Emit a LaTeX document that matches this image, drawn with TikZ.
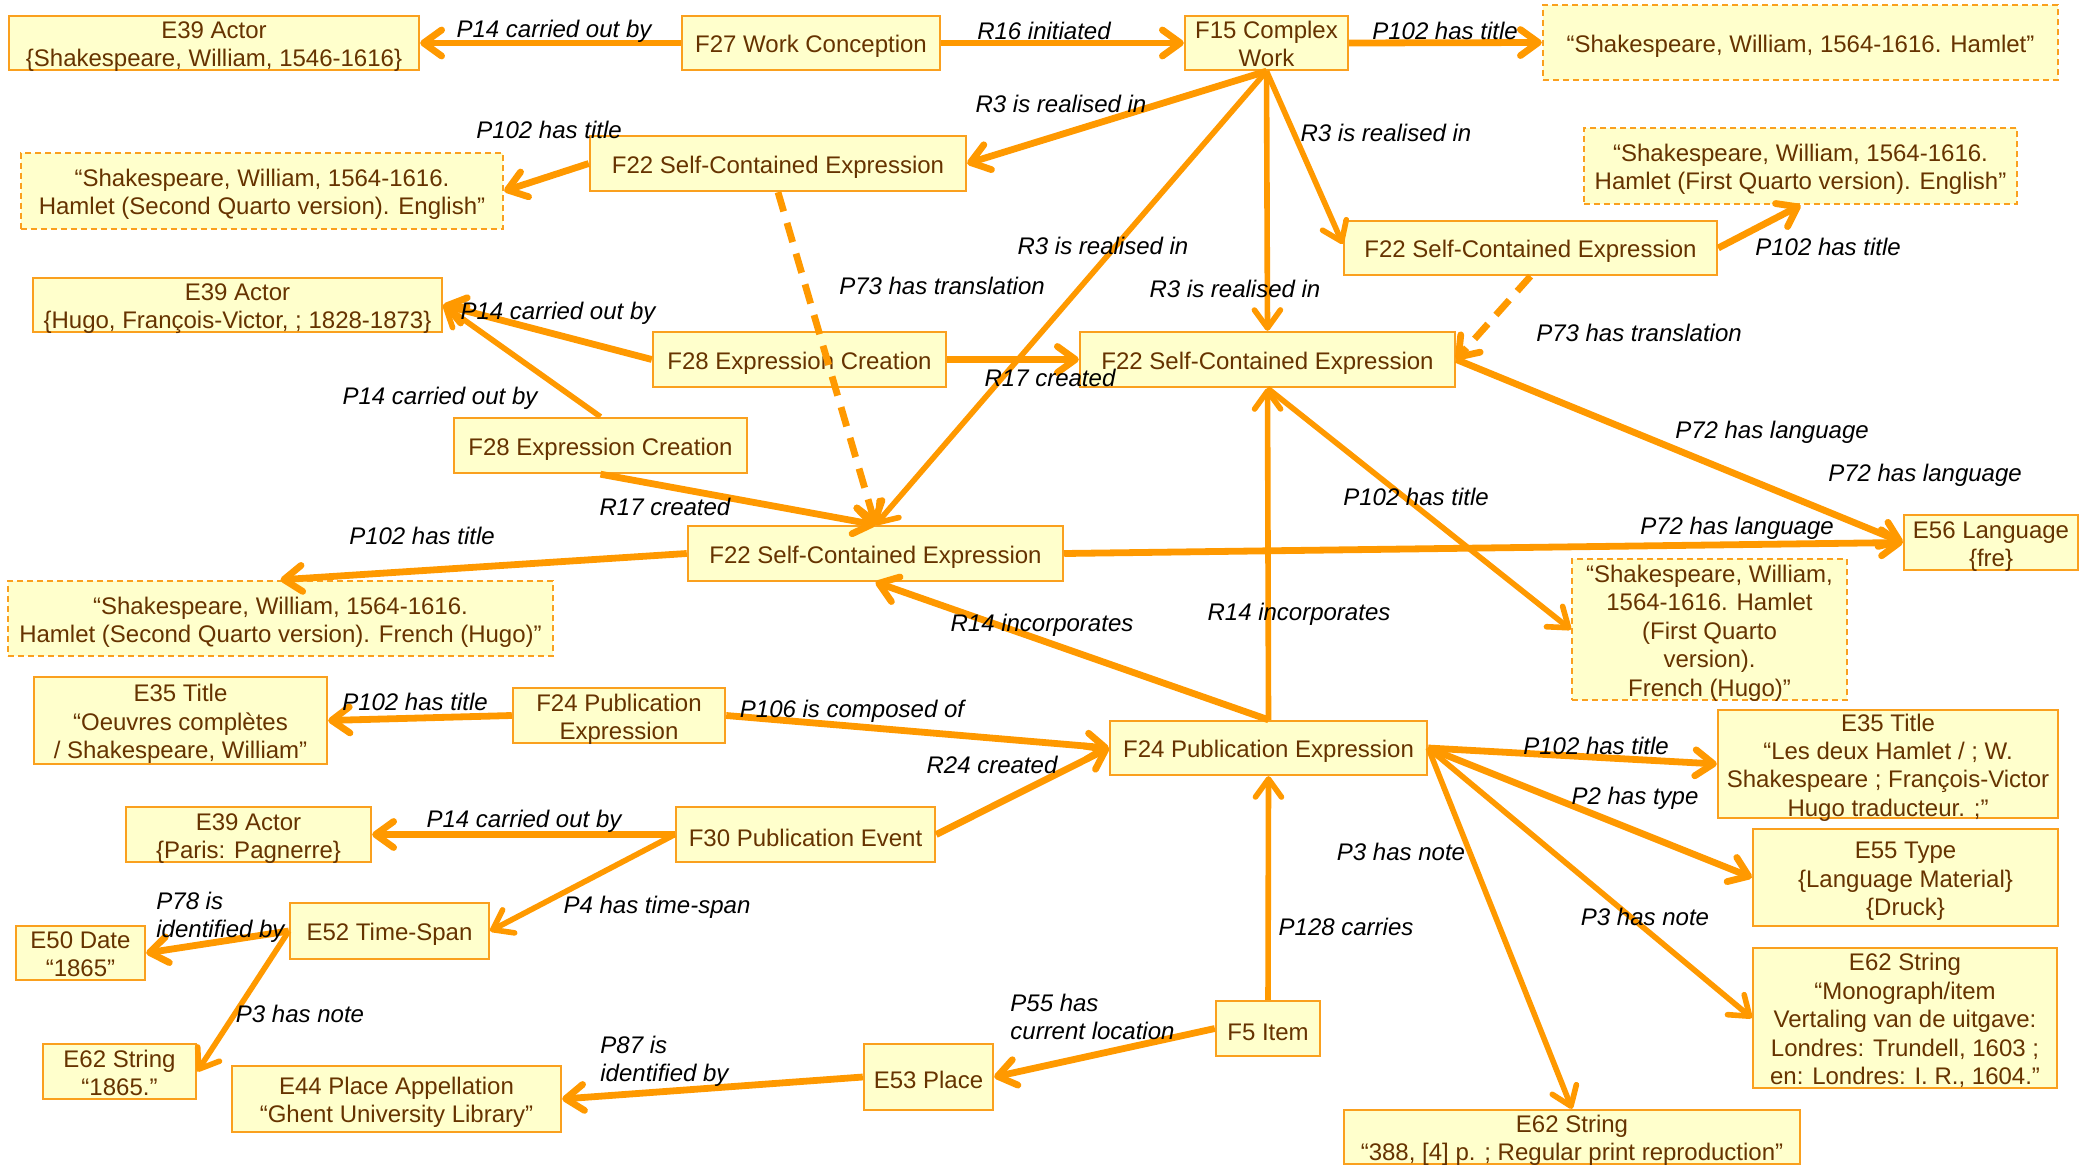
\documentclass[tikz,border=0pt]{standalone}
\usepackage{fontspec}
\setmainfont{Liberation Sans}
\usetikzlibrary{arrows.meta}
\definecolor{lnc}{RGB}{255,153,0}
\definecolor{bdc}{RGB}{250,160,30}
\definecolor{fillc}{RGB}{255,255,204}
\definecolor{txc}{RGB}{102,51,0}
\begin{document}
\begin{tikzpicture}[x=0.5pt,y=-0.5pt,
 box/.style={draw=bdc, fill=fillc, line width=1.2pt, text=txc, align=center, inner sep=0pt, font=\fontsize{12}{14.2}\selectfont, execute at begin node={\rule{0pt}{12pt}}},
 mlII/.style={execute at begin node={}, text height=23.9pt, text depth=0pt},
 mlIII/.style={execute at begin node={}, text height=38.1pt, text depth=0pt},
 mlIV/.style={execute at begin node={}, text height=52.3pt, text depth=0pt},
 mlV/.style={execute at begin node={}, text height=66.5pt, text depth=0pt},
 dbox/.style={box, dash pattern=on 3pt off 2pt},
 lbl/.style={font=\fontsize{12}{14.2}\selectfont\itshape, inner sep=0pt, align=center},
 lblL/.style={lbl, align=left, anchor=west},
 edge/.style={draw=lnc, line width=3.4pt, -{Straight Barb[length=9pt,width=13pt,round]}},
 thinedge/.style={edge, line width=2.8pt},
 dedge/.style={edge, dash pattern=on 10pt off 6pt},
]
\useasboundingbox (0,0) rectangle (2080,1171);
% nodes
\node[box, mlII, minimum width=205pt, minimum height=27pt] (e39a) at (214,43) {E39 Actor\\\{Shakespeare, William, 1546-1616\}};
\node[box, minimum width=129pt, minimum height=27pt] (f27) at (811,43) {F27 Work Conception};
\node[box, mlII, minimum width=81.5pt, minimum height=27pt] (f15) at (1266.5,43) {F15 Complex\\Work};
\node[dbox, minimum width=257.5pt, minimum height=37.5pt] (t1) at (1800.5,42.5) {“Shakespeare, William, 1564-1616. Hamlet”};
\node[box, minimum width=188pt, minimum height=27.5pt] (f22a) at (778,163.5) {F22 Self-Contained Expression};
\node[dbox, mlII, minimum width=241pt, minimum height=38pt] (t2) at (262,191) {“Shakespeare, William, 1564-1616.\\Hamlet (Second Quarto version). English”};
\node[dbox, mlII, minimum width=216.5pt, minimum height=38pt] (t3) at (1800.5,166) {“Shakespeare, William, 1564-1616.\\Hamlet (First Quarto version). English”};
\node[box, minimum width=186.5pt, minimum height=27pt] (f22b) at (1530.5,248) {F22 Self-Contained Expression};
\node[box, mlII, minimum width=204.5pt, minimum height=27pt] (e39h) at (237.5,305) {E39 Actor\\\{Hugo, François-Victor, ; 1828-1873\}};
\node[box, minimum width=146.5pt, minimum height=27.5pt] (f28a) at (799.5,359.5) {F28 Expression Creation};
\node[box, minimum width=187.5pt, minimum height=27.5pt] (f22c) at (1267.5,359.5) {F22 Self-Contained Expression};
\node[box, minimum width=146.5pt, minimum height=27.5pt] (f28b) at (600.5,445.5) {F28 Expression Creation};
\node[box, minimum width=187.5pt, minimum height=27.5pt] (f22d) at (875.5,553.5) {F22 Self-Contained Expression};
\node[box, mlII, minimum width=87pt, minimum height=27.5pt] (e56) at (1991,542.5) {E56 Language\\\{fre\}};
\node[dbox, mlII, minimum width=272.5pt, minimum height=37.5pt] (t4) at (280.5,618.5) {“Shakespeare, William, 1564-1616.\\Hamlet (Second Quarto version). French (Hugo)”};
\node[dbox, mlV, minimum width=137.5pt, minimum height=70.5pt] (t5) at (1709.5,629.5) {“Shakespeare, William,\\1564-1616. Hamlet\\(First Quarto\\version).\\French (Hugo)”};
\node[box, mlIII, minimum width=146.5pt, minimum height=43.5pt] (e35a) at (180.5,720.5) {E35 Title\\“Oeuvres complètes\\/ Shakespeare, William”};
\node[box, mlII, minimum width=106pt, minimum height=27.5pt] (f24a) at (619,715.5) {F24 Publication\\Expression};
\node[box, minimum width=158.5pt, minimum height=27pt] (f24b) at (1268.5,748) {F24 Publication Expression};
\node[box, mlIV, minimum width=170pt, minimum height=54pt] (e35b) at (1888,764) {E35 Title\\“Les deux Hamlet / ; W.\\Shakespeare ; François-Victor\\Hugo traducteur. ;”};
\node[box, mlII, minimum width=122.5pt, minimum height=27.5pt] (e39p) at (248.5,834.5) {E39 Actor\\\{Paris: Pagnerre\}};
\node[box, minimum width=129.5pt, minimum height=27.5pt] (f30) at (805.5,834.5) {F30 Publication Event};
\node[box, mlIII, minimum width=152.5pt, minimum height=48.5pt] (e55) at (1905.5,877.5) {E55 Type\\\{Language Material\}\\\{Druck\}};
\node[box, mlII, minimum width=64.5pt, minimum height=27pt] (e50) at (80.5,953) {E50 Date\\“1865”};
\node[box, minimum width=99.5pt, minimum height=28pt] (e52) at (389.5,931) {E52 Time-Span};
\node[box, mlV, minimum width=152pt, minimum height=70pt] (e62m) at (1905,1018) {E62 String\\“Monograph/item\\Vertaling van de uitgave:\\Londres: Trundell, 1603 ;\\en: Londres: I. R., 1604.”};
\node[box, minimum width=52pt, minimum height=27.5pt] (f5) at (1268,1028.5) {F5 Item};
\node[box, mlII, minimum width=76.5pt, minimum height=27.5pt] (e62a) at (119.5,1071.5) {E62 String\\“1865.”};
\node[box, mlII, minimum width=164.5pt, minimum height=33pt] (e44) at (396.5,1099) {E44 Place Appellation\\“Ghent University Library”};
\node[box, minimum width=64.5pt, minimum height=33pt] (e53) at (928.5,1077) {E53 Place};
\node[box, mlII, minimum width=228pt, minimum height=27pt] (e62b) at (1572,1137) {E62 String\\“388, [4] p. ; Regular print reproduction”};
% edges
\draw[edge] (f27.west) -- (e39a.east);
\draw[edge] (f27.east) -- (f15.west);
\draw[edge] (f15.east) -- (t1.west);
\draw[edge] (f15.south) -- (f22a.east);
\draw[thinedge] (f15.south) -- ([yshift=2pt]f22b.west);
\draw[thinedge] (f15.south) -- (f22c.north);
\draw[thinedge] (f15.south) -- (f22d.north);
\draw[edge] (f22a.west) -- (t2.east);
\draw[dedge] (f22a.south) -- (f22d.north);
\draw[edge] (f22b.east) -- (t3.south);
\draw[dedge] (f22b.south) -- (f22c.east);
\draw[edge] (f28a.west) -- (e39h.east);
\draw[thinedge] (f28b.north) -- (e39h.east);
\draw[edge] (f28a.east) -- (f22c.west);
\draw[edge] (f28b.south) -- (f22d.north);
\draw[edge] (f22d.west) -- (t4.north);
\draw[edge] (f22d.east) -- (e56.west);
\draw[edge] (f22c.east) -- (e56.west);
\draw[thinedge] (f22c.south) -- (t5.west);
\draw[thinedge] (f24b.north) -- (f22c.south);
\draw[edge] (f24b.north) -- (f22d.south);
\draw[edge] (f24a.west) -- (e35a.east);
\draw[edge] (f24a.east) -- (f24b.west);
\draw[edge] (f30.east) -- (f24b.west);
\draw[edge] (f30.west) -- (e39p.east);
\draw[thinedge] (f30.west) -- (e52.east);
\draw[edge] (e52.west) -- (e50.east);
\draw[thinedge] (e52.west) -- (e62a.east);
\draw[edge] (e53.west) -- (e44.east);
\draw[edge] (f5.west) -- (e53.east);
\draw[thinedge] (f5.north) -- (f24b.south);
\draw[edge] (f24b.east) -- (e35b.west);
\draw[edge] (f24b.east) -- (e55.west);
\draw[thinedge] (f24b.east) -- (e62m.west);
\draw[thinedge] (f24b.east) -- (e62b.north);
% labels
\node[lbl] (l1) at (554,31) {P14 carried out by};
\node[lbl] (l2) at (1044,31) {R16 initiated};
\node[lbl] (l3) at (1445,31) {P102 has title};
\node[lbl] (l4) at (1061,104) {R3 is realised in};
\node[lbl] (l5) at (1386,133) {R3 is realised in};
\node[lbl] (l6) at (549,130) {P102 has title};
\node[lbl] (l7) at (1103,246) {R3 is realised in};
\node[lbl] (l8) at (942,286) {P73 has translation};
\node[lbl] (l9) at (1235,289) {R3 is realised in};
\node[lbl] (l10) at (1828,247) {P102 has title};
\node[lbl] (l11) at (1639,333) {P73 has translation};
\node[lbl] (l12) at (558,313) {P14 carried out by};
\node[lbl] (l13) at (1050,378) {R17 created};
\node[lbl] (l14) at (440,398) {P14 carried out by};
\node[lbl] (l15) at (665,507) {R17 created};
\node[lbl] (l16) at (422,536) {P102 has title};
\node[lbl] (l17) at (1772,432) {P72 has language};
\node[lbl] (l18) at (1925,475) {P72 has language};
\node[lbl] (l19) at (1737,528) {P72 has language};
\node[lbl] (l20) at (1416,497) {P102 has title};
\node[lbl] (l21) at (1299,614) {R14 incorporates};
\node[lbl] (l22) at (1042,625) {R14 incorporates};
\node[lbl] (l23) at (415,702) {P102 has title};
\node[lbl] (l24) at (852,711) {P106 is composed of};
\node[lbl] (l25) at (992,765) {R24 created};
\node[lbl] (l26) at (524,821) {P14 carried out by};
\node[lbl] (l27) at (657,907) {P4 has time-span};
\node[lblL] (l28) at (156,917) {P78 is\\identified by};
\node[lbl] (l29) at (300,1014) {P3 has note};
\node[lblL] (l30) at (600,1061) {P87 is\\identified by};
\node[lblL] (l31) at (1010,1017) {P55 has\\current location};
\node[lbl] (l32) at (1346,927) {P128 carries};
\node[lbl] (l33) at (1596,746) {P102 has title};
\node[lbl] (l34) at (1635,798) {P2 has type};
\node[lbl] (l35) at (1645,917) {P3 has note};
\node[lbl] (l36) at (1401,852) {P3 has note};
\end{tikzpicture}
\end{document}
